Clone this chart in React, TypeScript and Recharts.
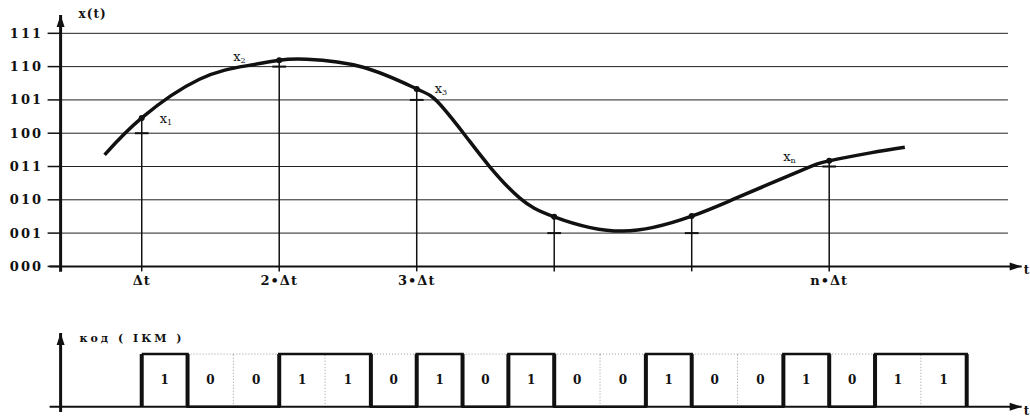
import {
  ComposedChart,
  Line,
  ReferenceDot,
  ReferenceLine,
  Scatter,
  XAxis,
  YAxis
} from "recharts";

// analog signal x(t) (t in units of Δt, x in quantization levels)
const curveT = [0.73, 1.0, 1.42, 1.77, 2.0, 2.2, 2.61, 3.0, 3.15, 3.34, 3.53, 3.75, 4.0, 4.5, 5.0, 5.3, 5.79, 6.0, 6.3, 6.55];
const curveX = [3.35, 4.46, 5.62, 6.03, 6.19, 6.22, 5.98, 5.33, 4.95, 4.0, 3.0, 2.05, 1.49, 1.06, 1.51, 2.01, 2.87, 3.17, 3.41, 3.58];

// sampling moments and the quantized level of each sample
const sampleT = [1, 2, 3, 4, 5, 6];
const sampleLevels = [4, 6, 5, 1, 1, 3];
const sampleNames = ["1", "2", "3", "", "", "n"];
const sampleTickLabels = ["Δt", "2•Δt", "3•Δt", "", "", "n•Δt"];

const levels = [0, 1, 2, 3, 4, 5, 6, 7];
const levelLabels = ["000", "001", "010", "011", "100", "101", "110", "111"];

// PCM code word stream (3 bits per sample)
const codeBits = [1, 0, 0, 1, 1, 0, 1, 0, 1, 0, 0, 1, 0, 0, 1, 0, 1, 1];

const T_MIN = 0.41;
const T_MAX = 7.4;
const GRID_END = 7.3;
const FONT = "DejaVu Serif";
const INK = "#111";

const curveData = curveT.map((t, i) => ({ t, x: curveX[i] }));
const sampleData = sampleT.map((t, i) => ({
  t,
  x: curveX[curveT.indexOf(t)],
  name: sampleNames[i]
}));
const pulseData = [
  ...codeBits.map((b, k) => ({ t: 1 + k / 3, v: b })),
  { t: 1 + codeBits.length / 3, v: 0 }
];
const bitLabelData = codeBits.map((b, k) => ({ t: 1 + k / 3 + 1 / 6, v: 0.5, b }));

const LABEL_OFFSET: Record<string, [number, number]> = {
  "1": [18, 5],
  "2": [-46, 1],
  "3": [18, 4],
  n: [-46, 0]
};

function SampleMark(props: any) {
  const { cx, cy, payload } = props;
  const off = LABEL_OFFSET[payload.name];
  return (
    <g>
      <circle cx={cx} cy={cy} r={3} fill={INK} />
      {off && (
        <text x={cx + off[0]} y={cy + off[1]} fontFamily={FONT} fontSize={13} fill={INK}>
          x
          <tspan fontSize={8} dy={2}>{payload.name}</tspan>
        </text>
      )}
    </g>
  );
}

function BitLabel(props: any) {
  const { cx, cy, payload } = props;
  return (
    <text x={cx} y={cy} textAnchor="middle" dominantBaseline="central" fontFamily={FONT} fontWeight="bold" fontSize={12} fill={INK}>
      {payload.b}
    </text>
  );
}

function LevelTick(props: any) {
  const { y, payload } = props;
  return (
    <text x={43} y={y} textAnchor="end" dominantBaseline="central" fontFamily={FONT} fontWeight="bold" fontSize={13} letterSpacing={2} fill={INK}>
      {levelLabels[payload.value]}
    </text>
  );
}

const upArrow = (p: any) => (
  <polygon points={`${p.cx},${p.cy} ${p.cx - 4},${p.cy + 12} ${p.cx + 4},${p.cy + 12}`} fill={INK} />
);
const rightArrow = (p: any) => (
  <polygon points={`${p.cx},${p.cy} ${p.cx - 12},${p.cy - 4} ${p.cx - 12},${p.cy + 4}`} fill={INK} />
);
const textAt = (label: string, dx: number, dy: number, size: number, spacing: number) => (p: any) => (
  <text x={p.cx + dx} y={p.cy + dy} fontFamily={FONT} fontSize={size} fontWeight="bold" fill={INK} letterSpacing={spacing}>
    {label}
  </text>
);

export default function App() {
  const edges: JSX.Element[] = [];
  for (let k = 0; k <= codeBits.length; k++) {
    const prev = codeBits[k - 1] ?? 0;
    const cur = codeBits[k] ?? 0;
    const t = 1 + k / 3;
    if (prev !== cur) {
      edges.push(
        <ReferenceLine key={`e${k}`} segment={[{ x: t, y: 0 }, { x: t, y: 1 }]} stroke={INK} strokeWidth={4} ifOverflow="visible" />
      );
    } else if (k > 0 && k < codeBits.length) {
      edges.push(
        <ReferenceLine key={`d${k}`} segment={[{ x: t, y: 0 }, { x: t, y: 1 }]} stroke="#999" strokeWidth={1} strokeDasharray="1 2" ifOverflow="visible" />
      );
    }
  }

  return (
    <div style={{ position: "absolute", left: 0, top: 0, width: 1030, height: 419, background: "#fff" }}>
      <div style={{ position: "absolute", left: 0, top: 0 }}>
        <ComposedChart width={1030} height={300} margin={{ top: 15, right: 8.3, left: 10.6, bottom: 3.6 }}>
          <XAxis
            type="number"
            dataKey="t"
            domain={[T_MIN, T_MAX]}
            allowDataOverflow
            ticks={sampleT}
            interval={0}
            tickFormatter={(v) => sampleTickLabels[sampleT.indexOf(v)] ?? ""}
            axisLine={false}
            tickLine={{ stroke: INK, strokeWidth: 1.5 }}
            tickSize={5}
            tickMargin={4}
            height={30}
            tick={{ fill: INK, fontSize: 13, fontFamily: FONT, fontWeight: "bold", letterSpacing: 1 }}
          />
          <YAxis
            type="number"
            domain={[0, 7.55]}
            allowDataOverflow
            ticks={levels}
            interval={0}
            width={50}
            axisLine={false}
            tickLine={{ stroke: INK, strokeWidth: 1.5 }}
            tickSize={13}
            tick={LevelTick}
          />
          {levels.slice(1).map((l) => (
            <ReferenceLine key={`g${l}`} segment={[{ x: T_MIN, y: l }, { x: GRID_END, y: l }]} stroke="#222" strokeWidth={1} />
          ))}
          <ReferenceLine segment={[{ x: 0.33, y: 0 }, { x: T_MAX, y: 0 }]} stroke={INK} strokeWidth={2} ifOverflow="visible" />
          <ReferenceLine segment={[{ x: T_MIN, y: -0.16 }, { x: T_MIN, y: 7.55 }]} stroke={INK} strokeWidth={3} ifOverflow="visible" />
          {sampleData.map((s) => (
            <ReferenceLine key={`s${s.t}`} segment={[{ x: s.t, y: 0 }, { x: s.t, y: s.x }]} stroke={INK} strokeWidth={1.5} />
          ))}
          {sampleT.map((t, i) => (
            <ReferenceLine key={`q${t}`} segment={[{ x: t - 0.05, y: sampleLevels[i] }, { x: t + 0.05, y: sampleLevels[i] }]} stroke={INK} strokeWidth={2} />
          ))}
          <Line data={curveData} dataKey="x" type="natural" stroke={INK} strokeWidth={3.5} dot={false} isAnimationActive={false} />
          <Scatter data={sampleData} dataKey="x" shape={SampleMark} isAnimationActive={false} />
          <ReferenceDot x={T_MIN} y={7.55} r={0} ifOverflow="visible" shape={upArrow} />
          <ReferenceDot x={T_MAX} y={0} r={0} ifOverflow="visible" shape={rightArrow} />
          <ReferenceDot x={T_MIN} y={7.55} r={0} ifOverflow="visible" shape={textAt("x(t)", 18, 3, 12, 1)} />
          <ReferenceDot x={T_MAX} y={0} r={0} ifOverflow="visible" shape={textAt("t", 2, 8, 12, 0)} />
        </ComposedChart>
      </div>
      <div style={{ position: "absolute", left: 0, top: 300 }}>
        <ComposedChart width={1030} height={119} margin={{ top: 33, right: 8.3, left: 60.6, bottom: 7 }}>
          <XAxis type="number" dataKey="t" domain={[T_MIN, T_MAX]} allowDataOverflow hide />
          <YAxis type="number" domain={[-0.1, 1.4]} allowDataOverflow hide />
          {codeBits.map((b, k) =>
            b === 0 ? (
              <ReferenceLine key={`z${k}`} segment={[{ x: 1 + k / 3, y: 1 }, { x: 1 + (k + 1) / 3, y: 1 }]} stroke="#999" strokeWidth={1} strokeDasharray="1 2" />
            ) : null
          )}
          {edges}
          <ReferenceLine segment={[{ x: 0.33, y: 0 }, { x: T_MAX, y: 0 }]} stroke={INK} strokeWidth={2} ifOverflow="visible" />
          <ReferenceLine segment={[{ x: T_MIN, y: -0.1 }, { x: T_MIN, y: 1.4 }]} stroke={INK} strokeWidth={3} ifOverflow="visible" />
          <Line data={pulseData} dataKey="v" type="stepAfter" stroke={INK} strokeWidth={2.5} dot={false} isAnimationActive={false} />
          <Scatter data={bitLabelData} dataKey="v" shape={BitLabel} isAnimationActive={false} />
          <ReferenceDot x={T_MIN} y={1.4} r={0} ifOverflow="visible" shape={upArrow} />
          <ReferenceDot x={T_MAX} y={0} r={0} ifOverflow="visible" shape={rightArrow} />
          <ReferenceDot x={T_MIN} y={1.4} r={0} ifOverflow="visible" shape={textAt("код ( ІКМ )", 19, 9, 11, 3)} />
          <ReferenceDot x={T_MAX} y={0} r={0} ifOverflow="visible" shape={textAt("t", 2, 8, 12, 0)} />
        </ComposedChart>
      </div>
    </div>
  );
}
